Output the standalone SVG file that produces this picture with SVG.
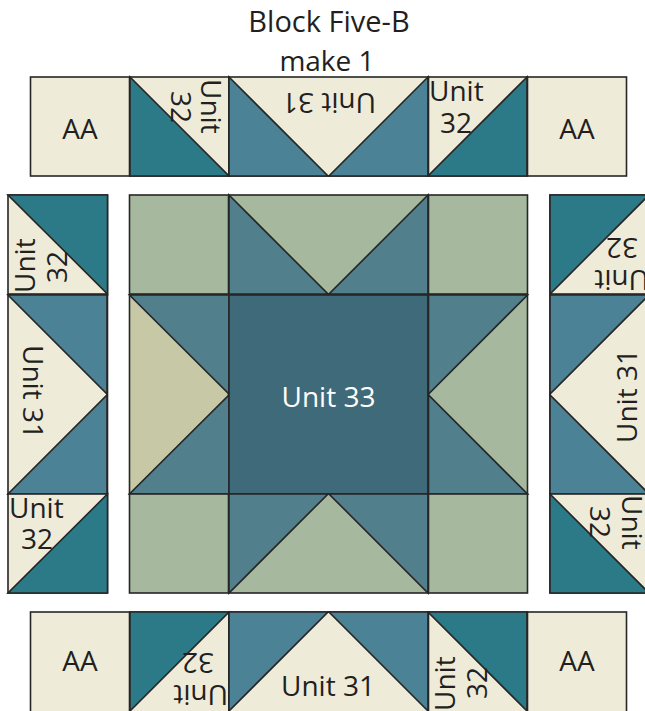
<svg xmlns="http://www.w3.org/2000/svg" width="645" height="711" viewBox="0 0 645 711">
<style>
.c{fill:#eeecd9}.d{fill:#2c7a88}.b{fill:#4c8296}.g{fill:#a6b89d}.m{fill:#527f8c}.k{fill:#3f6a79}.t{fill:#c6c8a6}
.s{stroke:#262626;stroke-width:1.6;stroke-linejoin:miter}
text{font-family:"Open Sans","Noto Sans",sans-serif;fill:#231f20;font-size:28px}
.n{text-anchor:middle}
.h{font-size:29px}
</style>
<rect width="645" height="711" fill="#fff"/>
<g id="title"><text class="n h" x="329" y="32">Block Five-B</text><text class="n" x="327" y="71">make 1</text></g>
<g id="top-row" class="s">
<rect class="c" x="30.500" y="77" width="99" height="99"/><rect class="c" x="130" y="77" width="99" height="99"/><polygon class="d" points="130,77 229,176 130,176"/>
<rect class="c" x="229" y="77" width="200" height="99"/><polygon class="b" points="229,77 328,176 229,176"/><polygon class="b" points="428,77 329,176 428,176"/>
<rect class="c" x="428.500" y="77" width="99" height="99"/><polygon class="d" points="527,77 428,176 527,176"/>
<rect class="c" x="527.500" y="77" width="99" height="99"/>
</g>
<g id="left-col" class="s">
<rect class="c" x="8" y="195" width="99.500" height="99"/><polygon class="d" points="8,195 107.500,195 107.500,294"/>
<rect class="c" x="8" y="295" width="99.500" height="199"/><polygon class="b" points="8,295 107,295 107,394"/><polygon class="b" points="8,494 107,494 107,395"/>
<rect class="c" x="8" y="494" width="99.500" height="99"/><polygon class="d" points="107.500,494 107.500,593 8,593"/>
</g>
<g id="right-col" class="s">
<rect class="c" x="550" y="195" width="100" height="99"/><polygon class="d" points="550,195 649,195 550,294"/>
<rect class="c" x="550" y="295" width="100" height="199"/><polygon class="b" points="649,295 550,295 550,394"/><polygon class="b" points="649,494 550,494 550,395"/>
<rect class="c" x="550" y="494" width="100" height="99"/><polygon class="d" points="550,494 649,593 550,593"/>
</g>
<g id="bottom-row" class="s">
<rect class="c" x="30.500" y="612" width="99" height="102"/><rect class="c" x="130" y="612" width="99" height="102"/><polygon class="d" points="130,612 229,612 130,711"/>
<rect class="c" x="229" y="612" width="200" height="102"/><polygon class="b" points="229,612 328,612 229,711"/><polygon class="b" points="428,612 329,612 428,711"/>
<rect class="c" x="428.500" y="612" width="99" height="102"/><polygon class="d" points="428,612 527,612 527,711"/>
<rect class="c" x="527.500" y="612" width="99" height="102"/>
</g>
<g id="center-block" class="s">
<rect class="g" x="129.500" y="195" width="99" height="99"/><rect class="g" x="229" y="195" width="199" height="99"/>
<polygon class="m" points="229,195 328,294 229,294"/><polygon class="m" points="428,195 329,294 428,294"/>
<rect class="g" x="428.500" y="195" width="99" height="99"/>
<rect class="t" x="129.500" y="295" width="99" height="199"/><polygon class="m" points="129.500,295 229,295 229,394"/><polygon class="m" points="129.500,494 229,494 229,395"/>
<rect class="k" x="229" y="295" width="199" height="199"/>
<rect class="g" x="428.500" y="295" width="99" height="199"/><polygon class="m" points="527.500,295 428.500,295 428.500,394"/><polygon class="m" points="527.500,494 428.500,494 428.500,395"/>
<rect class="g" x="129.500" y="494" width="99" height="99"/><rect class="g" x="229" y="494" width="199" height="99"/>
<polygon class="m" points="229,494 328,494 229,593"/><polygon class="m" points="428,494 329,494 428,593"/>
<rect class="g" x="428.500" y="494" width="99" height="99"/>
</g>
<g id="labels">
<text class="n" x="80" y="139">AA</text><text class="n" x="577" y="139">AA</text><text class="n" x="80" y="671">AA</text><text class="n" x="577" y="671">AA</text>
<text class="n" x="328.500" y="407" style="fill:#fff">Unit 33</text>
<text class="n" x="328" y="696">Unit 31</text>
<text class="n" transform="translate(329,93) rotate(180)">Unit 31</text>
<text class="n" transform="translate(23,392) rotate(90)">Unit 31</text>
<text class="n" transform="translate(637,396) rotate(-90)">Unit 31</text>
<text x="429" y="101">Unit</text><text x="440" y="133">32</text>
<text x="9" y="518">Unit</text><text x="21" y="549">32</text>
<text transform="translate(201,79) rotate(90)">Unit</text><text transform="translate(171,91) rotate(90)">32</text>
<text transform="translate(622,495) rotate(90)">Unit</text><text transform="translate(590,506) rotate(90)">32</text>
<text transform="translate(35,293) rotate(-90)">Unit</text><text transform="translate(67,283) rotate(-90)">32</text>
<text transform="translate(455,711) rotate(-90)">Unit</text><text transform="translate(487,699) rotate(-90)">32</text>
<text transform="translate(228,685) rotate(180)">Unit</text><text transform="translate(214,653) rotate(180)">32</text>
<text transform="translate(649,270) rotate(180)">Unit</text><text transform="translate(638,238) rotate(180)">32</text>
</g>
</svg>
